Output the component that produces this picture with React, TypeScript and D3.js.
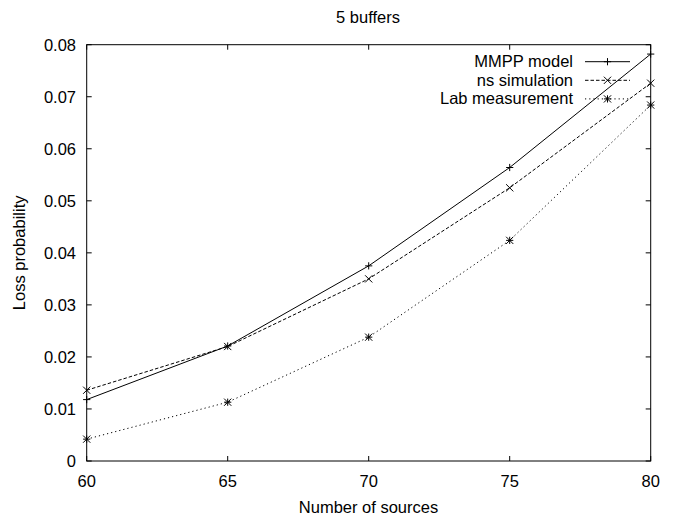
import React from "react";
import * as d3 from "d3";

// Number of sources on the x axis
const sources = [60, 65, 70, 75, 80];
// Loss probability per series
const mmppModel = [0.0118, 0.0221, 0.0375, 0.0564, 0.0782];
const nsSimulation = [0.0136, 0.022, 0.035, 0.0525, 0.0726];
const labMeasurement = [0.0042, 0.0113, 0.0238, 0.0424, 0.0684];

const xTicks = [60, 65, 70, 75, 80];
const yTicks = [0, 0.01, 0.02, 0.03, 0.04, 0.05, 0.06, 0.07, 0.08];

const titleText = "5 buffers";
const xLabel = "Number of sources";
const yLabel = "Loss probability";
const seriesNames = ["MMPP model", "ns simulation", "Lab measurement"];

const W = 674;
const H = 523;
const left = 86.7;
const right = 650.7;
const top = 44.7;
const bottom = 461;
const FONT = "'Liberation Sans', Arial, Helvetica, sans-serif";
const FS = 16.5;

type Marker = "plus" | "cross" | "star";

function MarkerShape({ cx, cy, kind }: { cx: number; cy: number; kind: Marker }) {
  const s = 3.6;
  const plus = `M${cx - s},${cy}H${cx + s}M${cx},${cy - s}V${cy + s}`;
  const cross = `M${cx - s},${cy - s}L${cx + s},${cy + s}M${cx - s},${cy + s}L${cx + s},${cy - s}`;
  const d = kind === "plus" ? plus : kind === "cross" ? cross : plus + cross;
  return <path d={d} stroke="#000" strokeWidth={1} fill="none" />;
}

export default function App() {
  const x = d3.scaleLinear().domain([60, 80]).range([left, right]);
  const y = d3.scaleLinear().domain([0, 0.08]).range([bottom, top]);

  const series: { name: string; values: number[]; dash?: string; marker: Marker }[] = [
    { name: seriesNames[0], values: mmppModel, marker: "plus" },
    { name: seriesNames[1], values: nsSimulation, dash: "3.5,2", marker: "cross" },
    { name: seriesNames[2], values: labMeasurement, dash: "1.2,3", marker: "star" },
  ];

  const line = d3
    .line<[number, number]>()
    .x((d) => x(d[0]))
    .y((d) => y(d[1]));

  const tickLen = 5;
  const legendTextX = 573;
  const legendLineX0 = 585;
  const legendLineX1 = 630;
  const legendY0 = 61.7;
  const legendStep = 18.6;

  return (
    <svg
      width={W}
      height={H}
      style={{ position: "absolute", left: 0, top: 0, background: "#fff" }}
      fontFamily={FONT}
    >
      <rect x={0} y={0} width={W} height={H} fill="#fff" />

      {/* title */}
      <text x={368} y={23} textAnchor="middle" fontSize={FS} fill="#000">
        {titleText}
      </text>

      {/* ticks on all four sides, pointing inward */}
      {xTicks.map((t) => (
        <g key={`xt${t}`}>
          <line x1={x(t)} x2={x(t)} y1={bottom} y2={bottom - tickLen} stroke="#000" />
          <line x1={x(t)} x2={x(t)} y1={top} y2={top + tickLen} stroke="#000" />
          <text x={x(t)} y={486.5} textAnchor="middle" fontSize={FS} fill="#000">
            {t}
          </text>
        </g>
      ))}
      {yTicks.map((t) => (
        <g key={`yt${t}`}>
          <line x1={left} x2={left + tickLen} y1={y(t)} y2={y(t)} stroke="#000" />
          <line x1={right} x2={right - tickLen} y1={y(t)} y2={y(t)} stroke="#000" />
          <text x={76} y={y(t) + 6} textAnchor="end" fontSize={FS} fill="#000">
            {t === 0 ? "0" : d3.format(".2f")(t)}
          </text>
        </g>
      ))}

      {/* axis titles */}
      <text x={368.5} y={512.5} textAnchor="middle" fontSize={FS} fill="#000">
        {xLabel}
      </text>
      <text
        transform={`translate(24.5,${(top + bottom) / 2}) rotate(-90)`}
        textAnchor="middle"
        fontSize={FS}
        fill="#000"
      >
        {yLabel}
      </text>

      {/* series */}
      {series.map((s) => {
        const pts = sources.map((v, i) => [v, s.values[i]] as [number, number]);
        return (
          <g key={s.name}>
            <path d={line(pts) ?? ""} fill="none" stroke="#000" strokeWidth={1} strokeDasharray={s.dash} />
            {pts.map((p, i) => (
              <MarkerShape key={i} cx={x(p[0])} cy={y(p[1])} kind={s.marker} />
            ))}
          </g>
        );
      })}

      {/* legend */}
      {series.map((s, i) => {
        const ly = legendY0 + i * legendStep;
        return (
          <g key={`lg${s.name}`}>
            <text x={legendTextX} y={ly + 5.5} textAnchor="end" fontSize={FS} fill="#000">
              {s.name}
            </text>
            <line x1={legendLineX0} x2={legendLineX1} y1={ly} y2={ly} stroke="#000" strokeDasharray={s.dash} />
            <MarkerShape cx={(legendLineX0 + legendLineX1) / 2} cy={ly} kind={s.marker} />
          </g>
        );
      })}

      {/* plot frame */}
      <rect x={left} y={top} width={right - left} height={bottom - top} fill="none" stroke="#000" strokeWidth={1} />
    </svg>
  );
}
